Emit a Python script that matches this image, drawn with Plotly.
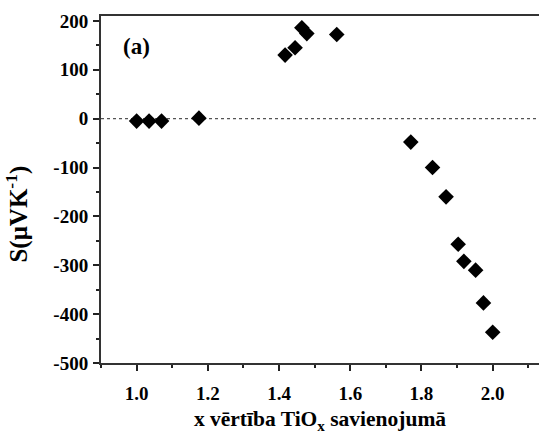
import plotly.graph_objects as go

x_vals = [1.0, 1.035, 1.07, 1.175, 1.417, 1.445, 1.464, 1.478, 1.562,
          1.770, 1.831, 1.869, 1.903, 1.919, 1.952, 1.974, 2.0]
s_vals = [-5, -5, -5, 1, 130, 145, 186, 174, 172,
          -48, -100, -160, -257, -292, -310, -377, -437]

x_ticks = [1.0, 1.2, 1.4, 1.6, 1.8, 2.0]
x_tick_text = ["1.0", "1.2", "1.4", "1.6", "1.8", "2.0"]
y_ticks = [200, 100, 0, -100, -200, -300, -400, -500]
y_tick_text = ["200", "100", "0", "-100", "-200", "-300", "-400", "-500"]

FONT = "Liberation Serif"

fig = go.Figure()
fig.add_trace(go.Scatter(
    x=x_vals, y=s_vals, mode="markers",
    marker=dict(symbol="diamond", size=12, color="black"),
    showlegend=False, cliponaxis=False,
))

fig.add_shape(type="line", xref="paper", yref="y", x0=0, x1=1, y0=0, y1=0,
              line=dict(color="#555", width=1.3, dash="dot"), layer="below")

fig.add_annotation(text="(a)", xref="x", yref="y", x=1.0, y=148,
                   showarrow=False, font=dict(family=FONT, size=23, color="black", weight="bold"))

fig.add_annotation(text="S(μVK<sup>-1</sup>)", xref="paper", yref="paper",
                   x=-0.19, y=0.43, textangle=-90, showarrow=False,
                   xanchor="center", yanchor="middle",
                   font=dict(family=FONT, size=25, color="black", weight="bold"))

fig.update_layout(
    width=539, height=434,
    margin=dict(l=101, r=0, t=16, b=71),
    paper_bgcolor="white", plot_bgcolor="white",
    font=dict(family=FONT, size=19, color="black", weight="bold"),
    xaxis=dict(
        range=[0.9, 2.13], tickvals=x_ticks, ticktext=x_tick_text,
        ticks="outside", ticklen=6, tickwidth=2, tickcolor="#222",
        showline=True, linecolor="#333", linewidth=2, mirror=True,
        showgrid=False, zeroline=False, ticklabelstandoff=6,
        minor=dict(dtick=0.1, tick0=0.9, ticks="outside", ticklen=3, tickwidth=2, tickcolor="#222", showgrid=False),
        tickfont=dict(family=FONT, size=19, color="black", weight="bold"),
        title=dict(text="x vērtība TiO<sub>x</sub> savienojumā",
                   font=dict(family=FONT, size=21.5, color="black", weight="bold"), standoff=15),
    ),
    yaxis=dict(
        range=[-500, 210], tickvals=y_ticks, ticktext=y_tick_text,
        ticks="outside", ticklen=6, tickwidth=2, tickcolor="#222",
        showline=True, linecolor="#333", linewidth=2, mirror=False,
        showgrid=False, zeroline=False, ticklabelstandoff=1,
        minor=dict(dtick=50, tick0=0, ticks="outside", ticklen=3, tickwidth=2, tickcolor="#222", showgrid=False),
        tickfont=dict(family=FONT, size=19, color="black", weight="bold"),
    ),
)

fig.write_html("out.html")
